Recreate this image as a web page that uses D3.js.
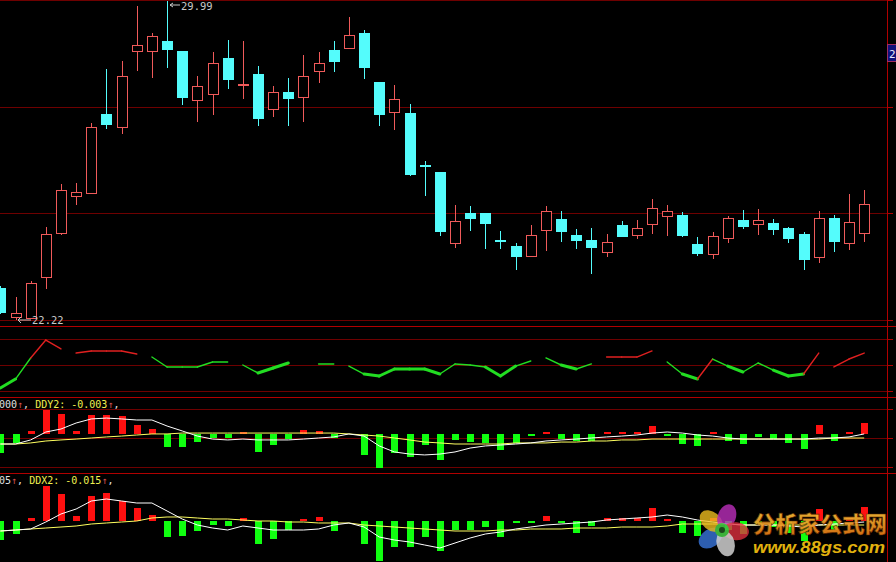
<!DOCTYPE html>
<html><head><meta charset="utf-8">
<script src="https://cdn.jsdelivr.net/npm/d3@7"></script>
<style>html,body{margin:0;padding:0;background:#000;overflow:hidden}svg{display:block}</style>
</head><body>
<script>
// ---------- DATA ----------
const opens  = [22.98,22.27,22.24,23.25,24.32,25.23,25.30,27.23,26.91,28.77,28.77,29.01,28.77,27.57,27.72,28.60,27.94,28.21,27.35,27.77,27.64,28.28,28.79,28.84,29.21,28.01,27.28,27.25,25.99,25.81,24.08,24.81,24.81,24.14,24.00,23.76,24.40,24.66,24.27,24.15,23.86,24.52,24.27,24.54,24.74,24.76,24.05,23.81,24.20,24.64,24.54,24.57,24.44,24.30,23.73,24.69,24.08,24.32];
const closes = [22.39,22.37,23.10,24.30,25.37,25.32,26.91,26.99,28.16,28.92,29.13,28.82,27.64,27.91,28.48,28.08,27.95,27.13,27.77,27.62,28.16,28.48,28.52,29.16,28.38,27.23,27.60,25.76,25.98,24.37,24.61,24.69,24.57,24.13,23.76,24.27,24.86,24.37,24.15,23.98,24.10,24.25,24.44,24.93,24.86,24.27,23.83,24.25,24.69,24.49,24.64,24.42,24.20,23.69,24.69,24.13,24.59,25.03];
const highs  = [23.03,22.76,23.15,24.47,25.52,25.54,27.01,28.33,28.52,29.87,29.21,29.99,28.77,28.16,28.74,29.04,29.01,28.40,27.91,28.11,28.67,28.74,29.01,29.60,29.28,28.01,27.94,27.47,26.08,25.81,25.01,24.98,24.81,24.37,24.08,24.52,24.98,24.86,24.42,24.44,24.30,24.61,24.64,25.15,25.01,24.83,24.22,24.35,24.74,24.88,24.91,24.66,24.47,24.35,24.86,24.76,25.27,25.37];
const lows   = [22.37,22.22,22.24,22.98,24.30,25.03,25.30,26.89,26.77,28.30,28.13,28.38,27.47,27.06,27.23,27.86,27.62,26.96,27.18,26.96,27.06,28.01,28.28,28.84,28.11,26.96,26.86,25.74,25.25,24.27,23.98,24.40,23.95,23.95,23.44,23.76,23.91,24.13,23.95,23.34,23.76,24.25,24.20,24.32,24.27,24.25,23.78,23.71,24.10,24.44,24.30,24.30,24.10,23.44,23.61,23.88,23.93,24.13];
const highLabel = "29.99", lowLabel = "22.22", cursorLabel = "2";

// indicator panel 2 (coloured line) and its segment states
const ind = [23.5,33.8,58.1,78.8,68.5,63.8,66.2,66.2,66.2,62.7,59.2,47.7,47.7,47.7,53.5,53.5,50,40.8,46.5,52.3,51.2,51.2,51.2,48.8,39.6,37.3,45.4,45.4,45.4,39.6,51.2,50,47.7,37.3,48.8,54.6,58.1,50,45.4,51.2,59.2,59.2,59.2,66.2,53.5,39.6,33.8,56.9,48.8,41.9,52.3,44.2,37.3,39.6,63.8,47.7,56.9,63.8];
const indSeg = ['', 'G','g','r','r','n','r','r','r','r','n','g','g','g','g','g','n','g','G','G','n','n','g','n','g','G','G','G','G','G','g','g','g','G','G','g','n','g','G','g','n','r','r','r','n','g','G','r','g','G','g','g','G','G','r','n','r','r'];

// DDY panel
const ddy  = [-0.013,-0.0063,0.0017,0.0157,0.013,0.0017,0.0123,0.0123,0.0117,0.0057,0.003,-0.009,-0.009,-0.0057,-0.003,-0.003,0.001,-0.0123,-0.0077,-0.0037,0.0023,0.0017,-0.003,0,-0.0143,-0.023,-0.013,-0.0157,-0.0077,-0.0177,-0.0043,-0.0057,-0.0063,-0.011,-0.0063,-0.001,0.001,-0.0037,-0.005,-0.005,0.001,0.001,0.001,0.005,-0.001,-0.007,-0.0083,0.001,-0.005,-0.007,-0.0023,-0.0037,-0.0063,-0.0103,0.0057,-0.005,0.001,0.007];
const ddy1 = [-0.007,-0.007,-0.0043,0.001,0.003,0.007,0.0097,0.0103,0.0097,0.009,0.009,0.005,0.0017,-0.0017,-0.0037,-0.0043,-0.0037,-0.0043,-0.0043,-0.0043,-0.0037,-0.003,-0.0023,-0.0003,-0.0017,-0.0083,-0.0123,-0.0137,-0.0143,-0.0137,-0.0123,-0.0097,-0.0083,-0.0077,-0.007,-0.0063,-0.005,-0.0043,-0.0037,-0.003,-0.0023,-0.0017,-0.001,0.0003,0.001,0.0003,-0.001,-0.0017,-0.003,-0.0037,-0.0037,-0.0037,-0.0037,-0.0037,-0.003,-0.003,-0.0023,-0.0003];
const ddy2 = [-0.007,-0.007,-0.0063,-0.005,-0.0043,-0.0037,-0.003,-0.0023,-0.0017,-0.001,-0.0003,-0.0003,0.0003,0.0003,0.0003,0.0003,0.0003,0.0003,0.0003,0.0003,0.0003,0.0003,0.0003,-0.0003,-0.001,-0.0017,-0.003,-0.0043,-0.0057,-0.0063,-0.007,-0.007,-0.007,-0.007,-0.0063,-0.0063,-0.0063,-0.0057,-0.0057,-0.005,-0.005,-0.0043,-0.0043,-0.0037,-0.0037,-0.0037,-0.0037,-0.0037,-0.0037,-0.0037,-0.0037,-0.0037,-0.0037,-0.0037,-0.0037,-0.003,-0.003,-0.003];
const ddyLabel = [["000","#e0e0e0"],["↑","#d05050"],[", ","#e0e0e0"],["DDY2: -0.003","#f0f050"],["↑","#d05050"],[",","#e0e0e0"]];

// DDX panel
const ddx  = [-0.065,-0.045,0.008,0.115,0.088,0.015,0.082,0.092,0.065,0.042,0.018,-0.055,-0.052,-0.035,-0.015,-0.018,0.008,-0.078,-0.062,-0.032,0.005,0.012,-0.035,0,-0.078,-0.135,-0.088,-0.088,-0.055,-0.102,-0.032,-0.032,-0.022,-0.055,-0.008,-0.005,0.015,-0.008,-0.042,-0.018,0.008,0.008,0.008,0.042,0.005,-0.042,-0.053,0.007,-0.033,-0.045,-0.015,-0.023,-0.04,-0.067,0.037,-0.033,0.007,0.045];
const ddx1 = [-0.035,-0.0317,-0.0283,-0.005,0.0217,0.0383,0.065,0.0717,0.065,0.0583,0.0583,0.0317,0.005,-0.015,-0.025,-0.0317,-0.0183,-0.025,-0.0317,-0.0317,-0.0317,-0.0283,-0.015,-0.0083,-0.0217,-0.055,-0.065,-0.0717,-0.0817,-0.0917,-0.075,-0.0583,-0.045,-0.0383,-0.0283,-0.0217,-0.015,-0.0117,-0.0083,-0.005,0.0017,0.005,0.0083,0.0117,0.0183,0.0117,0.0017,-0.005,-0.0117,-0.015,-0.015,-0.015,-0.0183,-0.0217,-0.015,-0.0117,-0.0083,-0.005];
const ddx2 = [-0.035,-0.0317,-0.0283,-0.025,-0.0217,-0.0183,-0.0117,-0.0083,-0.005,-0.0017,0.0083,0.0117,0.0117,0.0083,0.005,0.005,0.0017,-0.0017,-0.0017,-0.005,-0.005,-0.0083,-0.0083,-0.0083,-0.015,-0.0183,-0.0217,-0.025,-0.0283,-0.0317,-0.035,-0.035,-0.035,-0.0317,-0.0317,-0.0283,-0.0283,-0.0283,-0.025,-0.025,-0.025,-0.0217,-0.0217,-0.0217,-0.0183,-0.0117,-0.0117,-0.0117,-0.0117,-0.015,-0.015,-0.015,-0.015,-0.015,-0.015,-0.015,-0.015,-0.015];
const ddxLabel = [["05","#e0e0e0"],["↑","#d05050"],[", ","#e0e0e0"],["DDX2: -0.015","#f0f050"],["↑","#d05050"],[",","#e0e0e0"]];

const wmTitle = "分析家公式网", wmUrl = "www.88gs.com";

// ---------- DRAW ----------
const W = 896, H = 562;
const svg = d3.select("body").append("svg").attr("width", W).attr("height", H)
  .style("background", "#000");

const n = opens.length;
const xs = d3.scaleLinear().domain([0, n - 1]).range([0.35, 864.2]);
const cx = i => Math.round(xs(i));
const yP = d3.scaleLinear().domain([22.22, 29.99]).range([319, 1]);
const y2 = d3.scaleLinear().domain([20, 80]).range([391, 339]);
const y3 = d3.scaleLinear().domain([-0.024, 0.024]).range([469.5, 397.5]);
const y4 = d3.scaleLinear().domain([-0.14, 0.14]).range([562.5, 478.5]);

const GRID = "#6e0000", SEP = "#b00000";
const grid = svg.append("g").attr("shape-rendering", "crispEdges");
const gridYs = [0.5, 107.5, 213.5, 320.5, 339.5, 365.5, 391.5, 409.5, 438.5, 467.5];
gridYs.forEach(y => grid.append("line").attr("x1", 0).attr("x2", 887).attr("y1", y).attr("y2", y)
  .attr("stroke", GRID).attr("stroke-width", 1));
[326.5, 397.5, 473.5].forEach(y => grid.append("line").attr("x1", 0).attr("x2", 896).attr("y1", y).attr("y2", y)
  .attr("stroke", SEP).attr("stroke-width", 1.2));
grid.append("line").attr("x1", 887.5).attr("x2", 887.5).attr("y1", 0).attr("y2", H).attr("stroke", SEP);
gridYs.forEach(y => grid.append("line").attr("x1", 887).attr("x2", 893).attr("y1", y).attr("y2", y).attr("stroke", SEP));

// candles
const RED = "#f05a5a", CYAN = "#54fcfc";
const cg = svg.append("g").attr("shape-rendering", "crispEdges");
for (let i = 0; i < n; i++) {
  const up = closes[i] >= opens[i];
  const col = up ? RED : CYAN;
  const x = cx(i);
  cg.append("line").attr("x1", x + 0.5).attr("x2", x + 0.5)
    .attr("y1", Math.round(yP(highs[i]))).attr("y2", Math.round(yP(lows[i])) + 1)
    .attr("stroke", col);
  const top = Math.round(yP(Math.max(opens[i], closes[i])));
  const bot = Math.round(yP(Math.min(opens[i], closes[i])));
  if (up && bot - top >= 3) {
    cg.append("rect").attr("x", x - 4.5).attr("y", top + 0.5).attr("width", 10).attr("height", bot - top)
      .attr("fill", "#000").attr("stroke", col);
  } else {
    cg.append("rect").attr("x", x - 5).attr("y", top).attr("width", 11).attr("height", Math.max(2, bot - top + 1))
      .attr("fill", col);
  }
}

// high / low markers
const txtFont = "'DejaVu Sans Mono', monospace";
const iHi = highs.indexOf(d3.max(highs)), iLo = lows.indexOf(d3.min(lows));
const hx = cx(iHi) + 1, hy = yP(d3.max(highs)) + 4;
svg.append("path").attr("d", `M${hx + 12},${hy} L${hx + 2},${hy} M${hx + 5},${hy - 2} L${hx + 2},${hy} L${hx + 5},${hy + 2}`)
  .attr("stroke", "#c8c8c8").attr("fill", "none");
svg.append("text").attr("x", hx + 13).attr("y", hy + 5).attr("fill", "#c8c8c8")
  .attr("font-family", txtFont).attr("font-size", 10.5).text(highLabel);
const lx = cx(iLo) + 1, ly = yP(d3.min(lows)) + 1;
svg.append("path").attr("d", `M${lx + 14},${ly} L${lx + 1},${ly} M${lx + 4},${ly - 3} L${lx + 1},${ly} L${lx + 4},${ly + 3}`)
  .attr("stroke", "#c8c8c8").attr("fill", "none");
svg.append("text").attr("x", lx + 15).attr("y", ly + 4).attr("fill", "#c8c8c8")
  .attr("font-family", txtFont).attr("font-size", 10.5).text(lowLabel);

// cursor price box on right axis
svg.append("rect").attr("x", 887.5).attr("y", 44.5).attr("width", 14).attr("height", 17)
  .attr("fill", "#10107a").attr("stroke", "#a02c60");
svg.append("text").attr("x", 889).attr("y", 58).attr("fill", "#e8e8ff")
  .attr("font-family", txtFont).attr("font-size", 11).text(cursorLabel);

// panel 2 coloured line
const p2 = svg.append("g").attr("stroke-linecap", "round");
for (let i = 1; i < n; i++) {
  const s = indSeg[i];
  if (s === 'n') continue;
  p2.append("line").attr("x1", xs(i - 1)).attr("y1", y2(ind[i - 1])).attr("x2", xs(i)).attr("y2", y2(ind[i]))
    .attr("stroke", s === 'r' ? "#e02020" : "#22dd22").attr("stroke-width", s === 'G' ? 3 : 1.4);
}

// bar panels
function barPanel(vals, l1, l2, ys, label, labelY) {
  const g = svg.append("g");
  const z = ys(0);
  g.append("g").attr("shape-rendering", "crispEdges").selectAll("rect").data(vals).join("rect")
    .attr("x", (d, i) => cx(i) - 3)
    .attr("width", 7)
    .attr("y", d => d >= 0 ? Math.min(ys(d), z - 2) : z)
    .attr("height", d => Math.max(2, Math.abs(ys(d) - z)))
    .attr("fill", d => d > 0 ? "#ff1010" : "#10ff10")
    .attr("display", d => d === 0 ? "none" : null);
  const line = d3.line().x((d, i) => xs(i)).y(d => ys(d));
  g.append("path").attr("d", line(l2)).attr("fill", "none").attr("stroke", "#ffff60").attr("stroke-width", 1);
  g.append("path").attr("d", line(l1)).attr("fill", "none").attr("stroke", "#ffffff").attr("stroke-width", 1);
  const t = g.append("text").attr("x", -1).attr("y", labelY).attr("font-family", txtFont).attr("font-size", 10);
  label.forEach(([s, c]) => t.append("tspan").attr("fill", c).text(s));
}
barPanel(ddy, ddy1, ddy2, y3, ddyLabel, 407.5);
barPanel(ddx, ddx1, ddx2, y4, ddxLabel, 483.5);

// watermark
const wm = svg.append("g").attr("opacity", 0.92);
const fl = wm.append("g").attr("transform", "translate(722,530)");
[["#3a78e0", -125], ["#f0c020", -50], ["#c030c0", 20], ["#e03040", 95], ["#e0e0e0", 165]].forEach(([c, a]) => {
  fl.append("ellipse").attr("cx", 0).attr("cy", -14).attr("rx", 9).attr("ry", 13)
    .attr("transform", `rotate(${a})`).attr("fill", c).attr("opacity", 0.85);
});
fl.append("circle").attr("r", 7).attr("fill", "#40c040");
fl.append("circle").attr("r", 3).attr("fill", "#205020");
const defs = svg.append("defs");
const gr = defs.append("linearGradient").attr("id", "wmg").attr("x1", 0).attr("y1", 0).attr("x2", 0).attr("y2", 1);
gr.append("stop").attr("offset", "0%").attr("stop-color", "#ffd040");
gr.append("stop").attr("offset", "100%").attr("stop-color", "#e07010");
wm.append("text").attr("x", 753).attr("y", 532).attr("font-family", "'Noto Sans CJK SC'")
  .attr("font-weight", 900).attr("font-size", 22).attr("fill", "url(#wmg)")
  .attr("stroke", "#5a2800").attr("stroke-width", 0.6)
  .attr("textLength", 134).attr("lengthAdjust", "spacingAndGlyphs").text(wmTitle);
wm.append("text").attr("x", 753).attr("y", 553).attr("font-family", "'Liberation Sans', Arial, sans-serif")
  .attr("font-weight", "bold").attr("font-style", "italic").attr("font-size", 16).attr("fill", "#f5c010")
  .attr("textLength", 132).attr("lengthAdjust", "spacingAndGlyphs").text(wmUrl);
</script>
</body></html>
